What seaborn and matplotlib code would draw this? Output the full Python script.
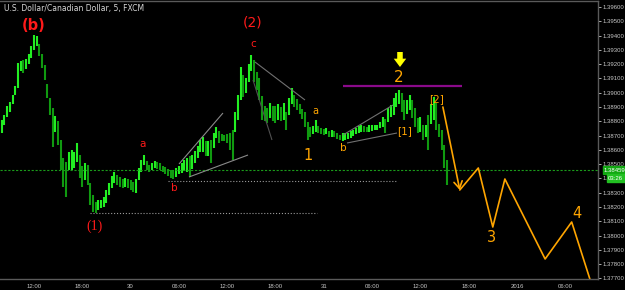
import matplotlib
matplotlib.use("Agg")
import matplotlib.pyplot as plt
import seaborn as sns
import pandas as pd
import numpy as np

# ---------------- data ----------------
bar_high = [1.38809, 1.38844, 1.38907, 1.38935, 1.38984, 1.39047, 1.39208, 1.39222, 1.39229, 1.39236,
            1.39271, 1.39327, 1.39404, 1.39397, 1.39341, 1.39271, 1.39194, 1.39061, 1.38963, 1.38893,
            1.38837, 1.38802, 1.38669, 1.38543, 1.38515, 1.38585, 1.38599, 1.38585, 1.38648, 1.38564,
            1.38487, 1.38508, 1.38494, 1.38368, 1.38284, 1.38235, 1.38249, 1.38249, 1.38270, 1.38319,
            1.38368, 1.38417, 1.38445, 1.38424, 1.38410, 1.38396, 1.38403, 1.38396, 1.38389, 1.38375,
            1.38396, 1.38473, 1.38529, 1.38564, 1.38522, 1.38494, 1.38508, 1.38522, 1.38515, 1.38508,
            1.38487, 1.38480, 1.38466, 1.38459, 1.38459, 1.38473, 1.38487, 1.38508, 1.38529, 1.38543,
            1.38557, 1.38564, 1.38592, 1.38627, 1.38669, 1.38690, 1.38662, 1.38662, 1.38669, 1.38718,
            1.38760, 1.38732, 1.38711, 1.38704, 1.38711, 1.38718, 1.38739, 1.38865, 1.38984, 1.39180,
            1.39124, 1.39103, 1.39201, 1.39264, 1.39229, 1.39145, 1.39103, 1.38977, 1.38907, 1.38893,
            1.38928, 1.38907, 1.38907, 1.38921, 1.38900, 1.38928, 1.38865, 1.38963, 1.39033, 1.38984,
            1.38956, 1.38921, 1.38886, 1.38865, 1.38795, 1.38760, 1.38767, 1.38809, 1.38767, 1.38753,
            1.38746, 1.38753, 1.38732, 1.38739, 1.38732, 1.38718, 1.38704, 1.38718, 1.38718, 1.38718,
            1.38732, 1.38739, 1.38753, 1.38767, 1.38774, 1.38767, 1.38760, 1.38774, 1.38774, 1.38774,
            1.38774, 1.38795, 1.38830, 1.38816, 1.38893, 1.38914, 1.38963, 1.38998, 1.39019, 1.38998,
            1.38949, 1.38949, 1.38984, 1.38949, 1.38893, 1.38823, 1.38830, 1.38774, 1.38774, 1.38844,
            1.38921, 1.38970, 1.38928, 1.38781, 1.38739, 1.38634, 1.38529]
bar_low = [1.38718, 1.38774, 1.38830, 1.38865, 1.38921, 1.38984, 1.39033, 1.39152, 1.39138, 1.39166,
           1.39201, 1.39243, 1.39299, 1.39327, 1.39257, 1.39173, 1.39089, 1.38963, 1.38844, 1.38620,
           1.38725, 1.38634, 1.38459, 1.38340, 1.38270, 1.38459, 1.38459, 1.38473, 1.38515, 1.38403,
           1.38340, 1.38389, 1.38354, 1.38214, 1.38165, 1.38158, 1.38179, 1.38193, 1.38200, 1.38228,
           1.38284, 1.38333, 1.38368, 1.38354, 1.38340, 1.38333, 1.38340, 1.38333, 1.38319, 1.38305,
           1.38298, 1.38389, 1.38445, 1.38494, 1.38459, 1.38445, 1.38459, 1.38473, 1.38466, 1.38459,
           1.38445, 1.38431, 1.38417, 1.38403, 1.38396, 1.38410, 1.38431, 1.38438, 1.38452, 1.38445,
           1.38410, 1.38466, 1.38508, 1.38543, 1.38585, 1.38585, 1.38557, 1.38557, 1.38508, 1.38613,
           1.38683, 1.38648, 1.38662, 1.38662, 1.38648, 1.38599, 1.38529, 1.38725, 1.38809, 1.38949,
           1.38970, 1.38998, 1.39075, 1.39152, 1.39075, 1.39019, 1.38949, 1.38809, 1.38802, 1.38788,
           1.38823, 1.38802, 1.38788, 1.38809, 1.38802, 1.38809, 1.38739, 1.38844, 1.38921, 1.38900,
           1.38879, 1.38851, 1.38816, 1.38760, 1.38669, 1.38690, 1.38711, 1.38725, 1.38718, 1.38711,
           1.38704, 1.38711, 1.38690, 1.38690, 1.38690, 1.38676, 1.38669, 1.38662, 1.38669, 1.38676,
           1.38683, 1.38697, 1.38711, 1.38718, 1.38725, 1.38725, 1.38725, 1.38725, 1.38732, 1.38739,
           1.38739, 1.38753, 1.38760, 1.38718, 1.38795, 1.38830, 1.38844, 1.38900, 1.38921, 1.38865,
           1.38809, 1.38851, 1.38879, 1.38823, 1.38760, 1.38718, 1.38725, 1.38669, 1.38690, 1.38599,
           1.38781, 1.38809, 1.38739, 1.38690, 1.38599, 1.38473, 1.38354]
bar_start = pd.Timestamp("2015-12-29 08:00")
bar_minutes = 20

last_price = 1.38459
clock_text = "03:26"

# forecast path (hours since 29 Dec 00:00, price)
proj_hour = [62.8, 64.9, 67.2, 69.0, 70.5, 75.5, 78.8, 81.1]
proj_price = [1.38900, 1.38319, 1.38473, 1.38060, 1.38396, 1.37836, 1.38095, 1.37689]

price_ticks = [1.377, 1.378, 1.379, 1.380, 1.381, 1.382, 1.383, 1.384, 1.385, 1.386,
               1.387, 1.388, 1.389, 1.390, 1.391, 1.392, 1.393, 1.394, 1.395, 1.396]
time_tick_hours = [12, 18, 24, 30, 36, 42, 48, 54, 60, 66, 72, 78]
time_tick_labels = ["12:00", "18:00", "30", "06:00", "12:00", "18:00", "31", "06:00",
                    "12:00", "18:00", "2016", "06:00"]

# drawn trend lines: (h0, p0, h1, p1, color, style)
trend_lines = [
    (30.02, 1.38501, 35.48, 1.38858, "#8a8a8a", "-"),
    (31.26, 1.38410, 38.59, 1.38564, "#8a8a8a", "-"),
    (39.46, 1.39215, 45.67, 1.38949, "#707070", "-"),
    (39.21, 1.39089, 41.57, 1.38669, "#505050", "-"),
    (50.39, 1.38704, 56.60, 1.38914, "#707070", "-"),
    (50.89, 1.38648, 57.10, 1.38718, "#707070", "-"),
    (28.65, 1.38382, 57.10, 1.38382, "#9a9a9a", ":"),
    (18.96, 1.38158, 47.16, 1.38158, "#9a9a9a", ":"),
    (50.39, 1.39044, 65.17, 1.39044, "#8a0a8a", "-"),
]

# wave labels: (hour, price, text, color, size, weight, family)
RED = "#ff1a1a"
ORG = "#ffa500"
labels = [
    (12.00, 1.39467, "(b)", RED, 10.5, "bold", "DejaVu Sans"),
    (39.21, 1.39495, "(2)", RED, 10, "normal", "DejaVu Sans"),
    (39.21, 1.39341, "c", RED, 7.5, "normal", "DejaVu Sans"),
    (25.54, 1.38641, "a", RED, 7.5, "normal", "DejaVu Sans"),
    (29.39, 1.38333, "b", RED, 7.5, "normal", "DejaVu Sans"),
    (19.58, 1.38067, "(1)", RED, 10, "normal", "Liberation Serif"),
    (46.04, 1.38564, "1", ORG, 10.5, "normal", "DejaVu Sans"),
    (46.91, 1.38872, "a", ORG, 7, "normal", "DejaVu Sans"),
    (50.39, 1.38613, "b", ORG, 7.5, "normal", "DejaVu Sans"),
    (57.35, 1.39103, "2", ORG, 11, "normal", "DejaVu Sans"),
    (58.09, 1.38732, "[1]", ORG, 7.5, "normal", "DejaVu Sans"),
    (62.07, 1.38956, "[2]", ORG, 7.5, "normal", "DejaVu Sans"),
    (68.90, 1.37990, "3", ORG, 10.5, "normal", "DejaVu Sans"),
    (79.46, 1.38158, "4", ORG, 10.5, "normal", "DejaVu Sans"),
]

# ---------------- drawing ----------------
sns.set_style("dark", {"axes.facecolor": "black", "figure.facecolor": "black",
                       "axes.edgecolor": "#5a5a5a", "grid.color": "black"})
plt.rcParams["font.family"] = ["DejaVu Sans"]
AXFONT = "Liberation Sans"

fig = plt.figure(figsize=(6.25, 2.9), dpi=100)
fig.patch.set_facecolor("black")
ax = fig.add_axes([0, 11 / 290, 598 / 625, 278 / 290])
ax.set_facecolor("black")

times = bar_start + pd.to_timedelta(np.arange(len(bar_high)) * bar_minutes, unit="min")
hours = (times - pd.Timestamp("2015-12-29 00:00")) / pd.Timedelta(hours=1)
df = pd.DataFrame({"hour": hours, "high": bar_high, "low": bar_low})
df["mid"] = (df["high"] + df["low"]) / 2
df["up"] = df["mid"].diff().fillna(0) >= 0
cols = np.where(df["up"], "#22ee22", "#109a10")
ax.vlines(df["hour"], df["low"], df["high"], colors=cols, linewidth=1.5)

# current price line
ax.axhline(last_price, color="#1a9a1a", lw=0.8, ls=(0, (2, 1.5)))

# trend lines
for h0, p0, h1, p1, c, ls in trend_lines:
    lw = 1.6 if c == "#8a0a8a" else 0.8
    ax.plot([h0, h1], [p0, p1], color=c, lw=lw, ls=ls, solid_capstyle="butt")

# forecast path
sns.lineplot(x=proj_hour[1:], y=proj_price[1:], ax=ax, color=ORG, lw=1.2, sort=False)
ax.annotate("", xy=(proj_hour[1], proj_price[1]), xytext=(proj_hour[0], proj_price[0]),
            arrowprops=dict(arrowstyle="->,head_length=0.5,head_width=0.3", color=ORG, lw=1.2,
                            shrinkA=0, shrinkB=0))

# yellow marker arrow above wave 2
ax.annotate("", xy=(57.47, 1.39180), xytext=(57.47, 1.39285),
            arrowprops=dict(arrowstyle="simple,head_width=0.9,head_length=0.6,tail_width=0.4",
                            color="#ffff00", lw=0, shrinkA=0, shrinkB=0))

for h, p, t, c, s, w, fam in labels:
    ax.text(h, p, t, color=c, fontsize=s, fontweight=w, family=fam, ha="center", va="center")

# axes
ax.set_xlim(7.78, 82.07)
ax.set_ylim(1.37696, 1.39642)
ax.yaxis.tick_right()
ax.set_yticks(price_ticks)
ax.set_yticklabels([f"{p:.5f}" for p in price_ticks], family=AXFONT)
ax.set_xticks(time_tick_hours)
ax.set_xticklabels(time_tick_labels, family=AXFONT)
ax.tick_params(axis="both", colors="#c8c8c8", labelsize=4.3, length=2, width=0.6, pad=1.5,
               direction="out")
ax.tick_params(axis="y", pad=1.5)
ax.grid(False)
ax.spines["left"].set_visible(False)
for side in ["right", "bottom", "top"]:
    ax.spines[side].set_visible(True)
    ax.spines[side].set_color("#5a5a5a")
    ax.spines[side].set_linewidth(1.0)
ax.set_xlabel("")
ax.set_ylabel("")

# price / clock boxes on the right scale
ytr = ax.get_yaxis_transform()
ax.text(1.01, last_price, f"{last_price:.5f}", transform=ytr, fontsize=4.3, family=AXFONT,
        color="white", ha="left", va="center", clip_on=False,
        bbox=dict(boxstyle="square,pad=0.2", fc="#12a812", ec="#12a812"))
ax.text(1.017, 1.38400, clock_text, transform=ytr, fontsize=4.3, family=AXFONT,
        color="white", ha="left", va="center", clip_on=False, zorder=10,
        bbox=dict(boxstyle="square,pad=0.25", fc="#22c022", ec="#22c022"))

fig.text(4 / 625, 1 - 9 / 290, "U.S. Dollar/Canadian Dollar, 5, FXCM", fontsize=5.5,
         color="#d8d8d8", ha="left", va="center")

fig.savefig("out.png", dpi=100, facecolor="black")
